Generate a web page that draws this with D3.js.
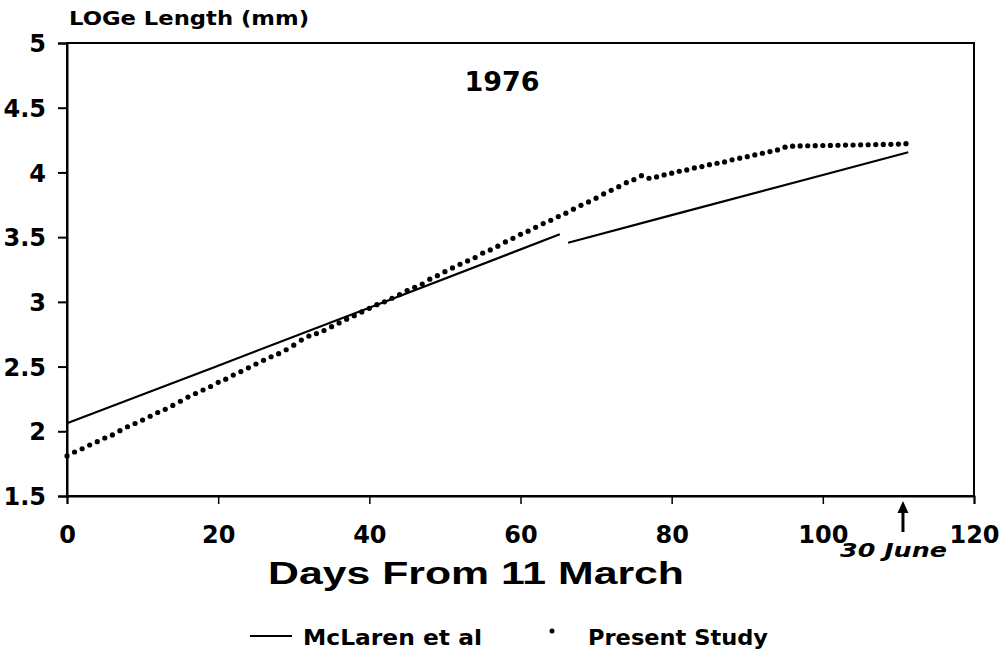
<!DOCTYPE html>
<html>
<head>
<meta charset="utf-8">
<script src="https://cdn.jsdelivr.net/npm/d3@7"></script>
<style>
  html, body { margin: 0; padding: 0; background: #fff; }
  svg { display: block; }
  text { font-family: "DejaVu Sans", "Liberation Sans", sans-serif; fill: #000; }
</style>
</head>
<body>
<svg id="chart" width="1002" height="653"></svg>
<script>
// ---- data ----
const xTicks = [0, 20, 40, 60, 80, 100, 120];
const yTicks = [1.5, 2, 2.5, 3, 3.5, 4, 4.5, 5];
const yTickLabels = ["1.5", "2", "2.5", "3", "3.5", "4", "4.5", "5"];

// McLaren et al (solid line, two segments)
const mclarenSeg1Days = [0, 20, 40, 65.2];
const mclarenSeg1Len  = [2.062, 2.507, 2.955, 3.522];
const mclarenSeg2Days = [66.3, 80, 100, 111.3];
const mclarenSeg2Len  = [3.457, 3.670, 3.980, 4.156];

// Present Study (daily dots, day 0 .. 111)
const studyLen = [
  1.810, 1.840, 1.865, 1.894, 1.920, 1.948, 1.972, 2.005, 2.035, 2.060,
  2.087, 2.116, 2.145, 2.170, 2.200, 2.232, 2.264, 2.292, 2.319, 2.346,
  2.378, 2.403, 2.434, 2.461, 2.490, 2.520, 2.548, 2.576, 2.600, 2.630,
  2.665, 2.705, 2.736, 2.755, 2.778, 2.808, 2.837, 2.866, 2.893, 2.922,
  2.950, 2.978, 3.000, 3.028, 3.056, 3.087, 3.113, 3.138, 3.175, 3.202,
  3.233, 3.262, 3.290, 3.316, 3.342, 3.376, 3.401, 3.430, 3.463, 3.491,
  3.522, 3.546, 3.576, 3.605, 3.630, 3.659, 3.685, 3.716, 3.746, 3.772,
  3.801, 3.834, 3.862, 3.890, 3.921, 3.944, 3.975, 3.955, 3.965, 3.981,
  3.994, 4.009, 4.019, 4.035, 4.045, 4.060, 4.071, 4.081, 4.097, 4.110,
  4.122, 4.135, 4.148, 4.161, 4.174, 4.195, 4.203, 4.205, 4.206, 4.207,
  4.208, 4.209, 4.210, 4.211, 4.212, 4.213, 4.214, 4.215, 4.216, 4.217,
  4.219, 4.222
];
const studyDays = studyLen.map((_, i) => i);

const arrowDay = 111;
const titleText = "1976";
const yTitle = "LOGe Length (mm)";
const xTitle = "Days From 11 March";
const arrowLabel = "30 June";
const legendLabels = ["McLaren et al", "Present Study"];

// ---- layout ----
const svg = d3.select("#chart");
const x = d3.scaleLinear().domain([0, 120]).range([67, 974]);
const y = d3.scaleLinear().domain([1.5, 5]).range([496, 43]);

// frame
svg.append("rect")
  .attr("x", x(0)).attr("y", y(5))
  .attr("width", x(120) - x(0)).attr("height", y(1.5) - y(5))
  .attr("fill", "none").attr("stroke", "#000").attr("stroke-width", 2);

// axes
const yAxis = d3.axisLeft(y).tickValues(yTicks).tickSize(9).tickPadding(12)
  .tickFormat((d, i) => yTickLabels[i]);
const gy = svg.append("g").attr("transform", `translate(${x(0)},0)`).call(yAxis);
gy.select(".domain").attr("stroke-width", 2);
gy.selectAll(".tick line").attr("stroke-width", 2);
gy.selectAll(".tick text").style("font-size", "24px").style("font-weight", "bold")
  .attr("dy", "0.36em");

const xAxis = d3.axisBottom(x).tickValues(xTicks).tickSize(8).tickPadding(22)
  .tickFormat(d => d);
const gx = svg.append("g").attr("transform", `translate(0,${y(1.5)})`).call(xAxis);
gx.select(".domain").attr("stroke-width", 2);
gx.selectAll(".tick line").attr("stroke-width", 1.5);
gx.selectAll(".tick text").style("font-size", "24px").style("font-weight", "bold");

// McLaren lines
const line = d3.line().x(d => x(d[0])).y(d => y(d[1]));
[[mclarenSeg1Days, mclarenSeg1Len], [mclarenSeg2Days, mclarenSeg2Len]].forEach(([ds, vs]) => {
  svg.append("path")
    .attr("d", line(ds.map((d, i) => [d, vs[i]])))
    .attr("fill", "none").attr("stroke", "#000").attr("stroke-width", 2.2);
});

// Present study dots
svg.append("g").selectAll("circle")
  .data(studyDays.map((d, i) => [d, studyLen[i]]))
  .join("circle")
  .attr("cx", d => x(d[0])).attr("cy", d => y(d[1])).attr("r", 2.6)
  .attr("fill", "#000");

// titles
svg.append("text").attr("x", 69).attr("y", 25)
  .attr("textLength", 240).attr("lengthAdjust", "spacingAndGlyphs")
  .style("font-size", "20px").style("font-weight", "bold").text(yTitle);

svg.append("text").attr("x", 502).attr("y", 91).attr("text-anchor", "middle")
  .style("font-size", "27px").style("font-weight", "bold").text(titleText);

svg.append("text").attr("x", 268).attr("y", 584)
  .attr("textLength", 416).attr("lengthAdjust", "spacingAndGlyphs")
  .style("font-family", "'Liberation Sans', Arial, sans-serif")
  .style("font-size", "32px").style("font-weight", "bold").text(xTitle);

// arrow
const ax = x(arrowDay) - 3;
svg.append("line").attr("x1", ax).attr("x2", ax).attr("y1", 510).attr("y2", 532)
  .attr("stroke", "#000").attr("stroke-width", 3);
svg.append("path")
  .attr("d", `M${ax},501 L${ax - 5.5},513 L${ax + 5.5},513 Z`).attr("fill", "#000");
svg.append("text").attr("x", 840).attr("y", 557)
  .attr("textLength", 107).attr("lengthAdjust", "spacingAndGlyphs")
  .style("font-size", "19px").style("font-weight", "bold").style("font-style", "italic")
  .text(arrowLabel);

// legend
const ly = 636;
svg.append("line").attr("x1", 250).attr("x2", 292).attr("y1", ly).attr("y2", ly)
  .attr("stroke", "#000").attr("stroke-width", 2);
svg.append("text").attr("x", 303).attr("y", ly + 9)
  .attr("textLength", 179).attr("lengthAdjust", "spacingAndGlyphs")
  .style("font-size", "21px").style("font-weight", "bold").text(legendLabels[0]);
svg.append("circle").attr("cx", 552).attr("cy", ly - 5).attr("r", 2.5).attr("fill", "#000");
svg.append("text").attr("x", 588).attr("y", ly + 9)
  .attr("textLength", 180).attr("lengthAdjust", "spacingAndGlyphs")
  .style("font-size", "21px").style("font-weight", "bold").text(legendLabels[1]);
</script>
</body>
</html>
